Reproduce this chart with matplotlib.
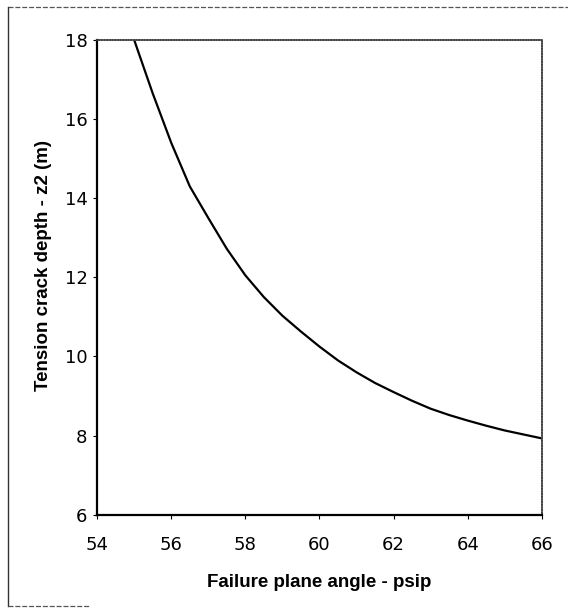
import numpy as np
import matplotlib.pyplot as plt
from matplotlib.lines import Line2D

# -------------------------------
# Data
# -------------------------------
psip = [55.0, 55.5, 56.0, 56.5, 57.0, 57.5, 58.0, 58.5, 59.0, 59.5, 60.0,
        60.5, 61.0, 61.5, 62.0, 62.5, 63.0, 63.5, 64.0, 64.5, 65.0, 65.5, 66.0]
z2 = [18.0, 16.65, 15.4, 14.3, 13.5, 12.72, 12.05, 11.5, 11.03, 10.63, 10.25,
      9.9, 9.6, 9.33, 9.1, 8.88, 8.68, 8.52, 8.38, 8.25, 8.13, 8.03, 7.93]

x_ticks = [54, 56, 58, 60, 62, 64, 66]
y_ticks = [6, 8, 10, 12, 14, 16, 18]

plt.rcParams['font.family'] = ['DejaVu Sans']

fig = plt.figure(figsize=(5.68, 6.15), dpi=100)
ax = fig.add_axes([0.171, 0.163, 0.783, 0.772])

ax.plot(psip, z2, color="black", linewidth=1.6)

ax.set_xlim(54, 66)
ax.set_ylim(6, 18)
ax.set_xticks(x_ticks)
ax.set_yticks(y_ticks)
ax.tick_params(direction="out", length=3, width=0.8, labelsize=13)
ax.tick_params(axis="x", pad=12)
ax.tick_params(axis="y", pad=4)

# spines: solid left/bottom, dotted top/right
for side in ["left", "bottom"]:
    ax.spines[side].set_linewidth(1.6)
    ax.spines[side].set_color("black")
for side in ["top", "right"]:
    ax.spines[side].set_linewidth(1.2)
    ax.spines[side].set_color("#444444")
    ax.spines[side].set_linestyle((0, (1, 0.6)))

label_font = dict(family=["Liberation Sans", "DejaVu Sans"], fontsize=13.5, fontweight="bold")
ax.set_xlabel("Failure plane angle - psip", labelpad=15, **label_font)
ax.set_ylabel("Tension crack depth - z2 (m)", **label_font)
ax.yaxis.set_label_coords(-0.101, 0.525)

# -------------------------------
# Outer chart-area border (partial, dashed)
# -------------------------------
W, H = 568, 615
border = dict(color="#555555", linewidth=0.9, linestyle=(0, (4, 1.5)))
fig.add_artist(Line2D([8 / W, 1.0], [1 - 7 / H, 1 - 7 / H], transform=fig.transFigure, **border))
fig.add_artist(Line2D([8 / W, 8 / W], [1 - 7 / H, 1 - 606 / H], transform=fig.transFigure,
                      color="#333333", linewidth=1.0))
fig.add_artist(Line2D([8 / W, 90 / W], [1 - 606 / H, 1 - 606 / H], transform=fig.transFigure, **border))

fig.savefig("out.png", dpi=100)
